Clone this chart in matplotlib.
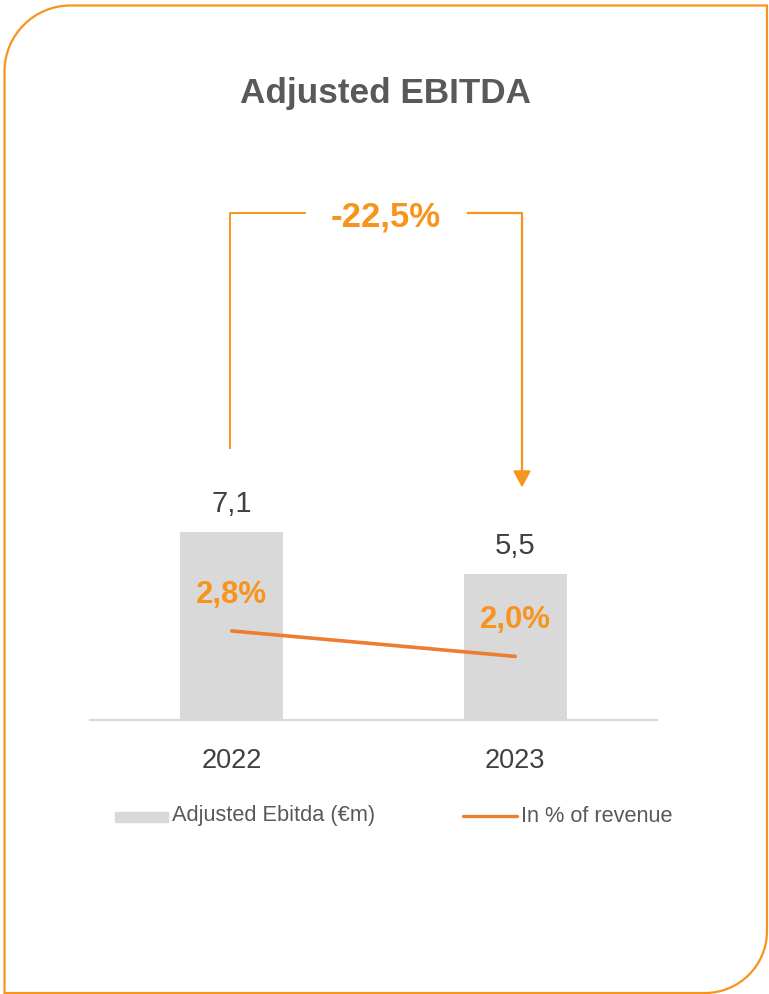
import matplotlib
matplotlib.use('Agg')
import matplotlib.pyplot as plt
from matplotlib.path import Path
from matplotlib.patches import PathPatch, Rectangle, Polygon
from matplotlib.lines import Line2D

# ---------------- data ----------------
years = ['2022', '2023']
ebitda = [7.1, 5.5]
ebitda_labels = ['7,1', '5,5']
pct_revenue = [2.8, 2.0]
pct_labels = ['2,8%', '2,0%']
change_label = '-22,5%'
title = 'Adjusted EBITDA'
legend_labels = ['Adjusted Ebitda (€m)', 'In % of revenue']

# ---------------- style ----------------
ORANGE = '#F7941D'
LINE_ORANGE = '#ED7D31'
BAR_GREY = '#D9D9D9'
DARK = '#404040'
MID = '#595959'
FONT = ['Liberation Sans', 'DejaVu Sans']

W, H = 769, 994
fig = plt.figure(figsize=(W / 100, H / 100), dpi=100)


def fx(px):
    return px / W


def fy(py):
    return 1 - py / H


# rounded frame (top-left and bottom-right rounded)
L, T, R, B = 4.5, 5.5, 767, 993
r1, r2 = 66, 62
k = 0.5523
verts = [
    (L, T + r1),
    (L, T + r1 - k * r1), (L + r1 - k * r1, T), (L + r1, T),
    (R, T),
    (R, B - r2),
    (R, B - r2 + k * r2), (R - r2 + k * r2, B), (R - r2, B),
    (L, B),
    (L, T + r1),
]
codes = [Path.MOVETO, Path.CURVE4, Path.CURVE4, Path.CURVE4, Path.LINETO,
         Path.LINETO, Path.CURVE4, Path.CURVE4, Path.CURVE4, Path.LINETO, Path.LINETO]
frame = Path([(fx(x), fy(y)) for x, y in verts], codes)
fig.add_artist(PathPatch(frame, facecolor='none', edgecolor=ORANGE, lw=1.6,
                         transform=fig.transFigure))

# ---------------- main axes ----------------
ax = fig.add_axes([fx(90), fy(720), fx(657) - fx(90), 600 / H])
x = list(range(len(years)))
ax.bar(x, ebitda, width=0.363, color=BAR_GREY, zorder=2)
ax.set_xlim(-0.5, 1.5)
ax.set_ylim(0, 600 / 26.5)
for s in ['top', 'left', 'right']:
    ax.spines[s].set_visible(False)
ax.spines['bottom'].set_color(BAR_GREY)
ax.spines['bottom'].set_linewidth(1.5)
ax.set_yticks([])
ax.set_xticks(x)
ax.set_xticklabels(years, fontsize=19.5, color=DARK, family=FONT)
ax.tick_params(axis='x', length=0, pad=20.5)

for xi, v, lbl in zip(x, ebitda, ebitda_labels):
    ax.annotate(lbl, (xi, v), xytext=(0, 20), textcoords='offset points',
                ha='center', va='center', fontsize=21, color=DARK, family=FONT)

ax2 = ax.twinx()
ax2.set_ylim(0, 600 / 31.8)
ax2.plot(x, pct_revenue, color=LINE_ORANGE, lw=2.6, solid_capstyle='round', zorder=3)
ax2.axis('off')
for xi, v, lbl in zip(x, pct_revenue, pct_labels):
    ax2.annotate(lbl, (xi, v), xytext=(0, 26), textcoords='offset points',
                 ha='center', va='center', fontsize=22.4, color=ORANGE,
                 fontweight='bold', family=FONT)

# ---------------- title ----------------
fig.text(fx(386), fy(94), title, ha='center', va='center', fontsize=25.3,
         fontweight='bold', color=MID, family=FONT)

# ---------------- change bracket ----------------
fig.add_artist(Line2D([fx(230), fx(230), fx(305)], [fy(448), fy(213), fy(213)],
                      color=ORANGE, lw=1.4, transform=fig.transFigure))
fig.add_artist(Line2D([fx(468), fx(522), fx(522)], [fy(213), fy(213), fy(472)],
                      color=ORANGE, lw=1.6, transform=fig.transFigure))
fig.add_artist(Polygon([(fx(514), fy(471)), (fx(530), fy(471)), (fx(522), fy(486))],
                       closed=True, color=ORANGE, transform=fig.transFigure))
fig.text(fx(386), fy(217), change_label, ha='center', va='center', fontsize=25,
         fontweight='bold', color=ORANGE, family=FONT)

# ---------------- legend ----------------
fig.add_artist(Rectangle((fx(115), fy(822)), fx(168) - fx(115), 10 / H,
                         color=BAR_GREY, transform=fig.transFigure))
fig.text(fx(172), fy(816), legend_labels[0], ha='left', va='center', fontsize=15.7,
         color=MID, family=FONT)
fig.add_artist(Line2D([fx(463), fx(517)], [fy(816), fy(816)], color=LINE_ORANGE,
                      lw=2.4, solid_capstyle='round', transform=fig.transFigure))
fig.text(fx(521), fy(816), legend_labels[1], ha='left', va='center', fontsize=15.7,
         color=MID, family=FONT)

fig.savefig('out.png', dpi=100)
